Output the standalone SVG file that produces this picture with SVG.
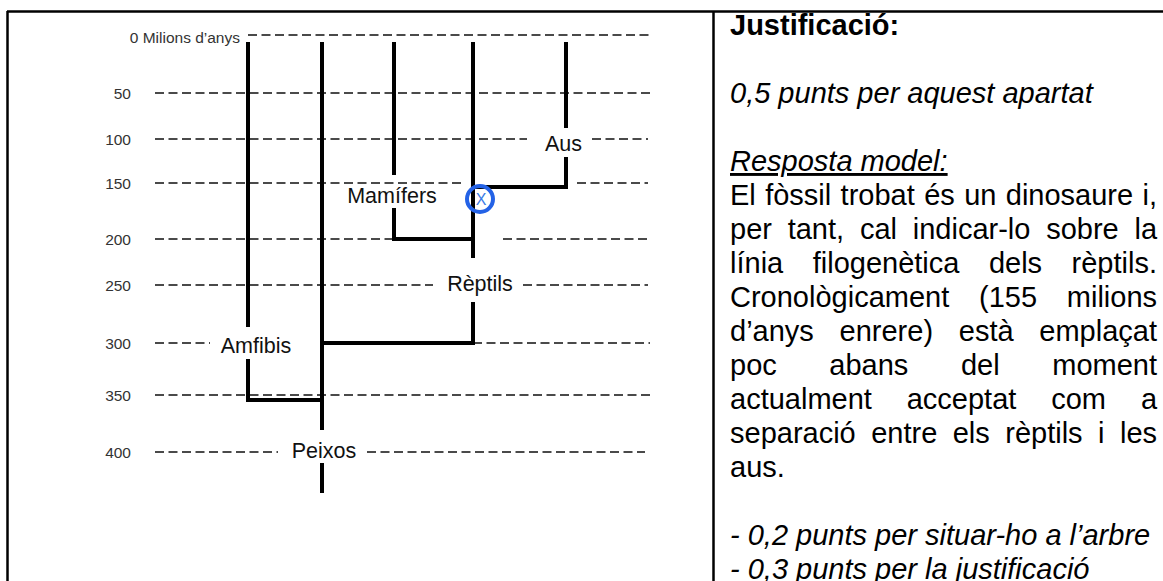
<svg xmlns="http://www.w3.org/2000/svg" width="1163" height="581" viewBox="0 0 1163 581">
<style>
.frame{stroke:#000;stroke-width:2.5;fill:none}
.grid{stroke:#4a4a4a;stroke-width:2;stroke-dasharray:9 4.5;fill:none}
.branch{stroke:#000;stroke-width:4;fill:none;stroke-linejoin:miter;stroke-linecap:butt}
.axis{font-family:"Liberation Sans",Arial,sans-serif;font-size:15.5px;fill:#333;text-anchor:end}
.taxon{font-family:"Liberation Sans",Arial,sans-serif;font-size:21.5px;fill:#111;text-anchor:middle}
.body{font-family:"Liberation Sans",Arial,sans-serif;font-size:29px;fill:#000}
.it{font-style:italic}
</style>
<rect x="0" y="0" width="1163" height="581" fill="#fff"/>
<g id="table">
<line class="frame" x1="7" y1="11.5" x2="1163" y2="11.5"/>
<line class="frame" x1="7.5" y1="11" x2="7.5" y2="581"/>
<line class="frame" x1="713.5" y1="11" x2="713.5" y2="581"/>
</g>
<g id="timescale">
<path class="grid" d="M248,35 H650 M155,93 H650 M155,139 H527 M592,139 H648 M155,183 H462 M577,183 H648 M155,239 H394 M503,239 H650 M155,285 H433 M523,285 H648 M155,343 H210 M473,343 H650 M155,395 H650 M155,452 H278 M367,452 H645"/>
<text class="axis" x="240" y="43">0 Milions d’anys</text>
<text class="axis" x="131" y="99">50</text>
<text class="axis" x="131" y="145">100</text>
<text class="axis" x="131" y="189">150</text>
<text class="axis" x="131" y="245">200</text>
<text class="axis" x="131" y="291">250</text>
<text class="axis" x="131" y="349">300</text>
<text class="axis" x="131" y="401">350</text>
<text class="axis" x="131" y="458">400</text>
</g>
<g id="connectors">
<path class="branch" d="M248,42 V327 M248,359 V400 H322"/>
<path class="branch" d="M394,42 V175 M394,208 V239 H473"/>
<path class="branch" d="M566,42 V128 M566,157 V187 H473"/>
<path class="branch" d="M473,42 V258 M473,302 V343 H322"/>
<path class="branch" d="M322,42 V430 M322,463 V493"/>
</g>
<g id="node-aus"><text class="taxon" x="563.5" y="151">Aus</text></g>
<g id="node-mamifers"><text class="taxon" x="392" y="203">Mamífers</text></g>
<g id="node-reptils"><text class="taxon" x="480" y="291">Rèptils</text></g>
<g id="node-amfibis"><text class="taxon" x="256" y="353">Amfibis</text></g>
<g id="node-peixos"><text class="taxon" x="324" y="458">Peixos</text></g>
<g id="node-fossil">
<circle cx="480" cy="199" r="13" fill="none" stroke="#2462e6" stroke-width="4"/>
<text x="481" y="205" font-family="Liberation Sans, Arial, sans-serif" font-size="16" fill="#3b7be6" text-anchor="middle">X</text>
</g>
<g id="justification" class="body">
<text x="730" y="35" font-weight="bold">Justificació:</text>
<text class="it" x="730" y="103">0,5 punts per aquest apartat</text>
<text class="it" x="730" y="171" text-decoration="underline">Resposta model:</text>
<text y="205"><tspan x="730">El</tspan><tspan x="765.16">fòssil</tspan><tspan x="840.6">trobat</tspan><tspan x="924.13">és</tspan><tspan x="964.13">un</tspan><tspan x="1005.76">dinosaure</tspan><tspan x="1142.48">i,</tspan></text>
<text y="239"><tspan x="730">per</tspan><tspan x="787.69">tant,</tspan><tspan x="859.9">cal</tspan><tspan x="912.74">indicar-lo</tspan><tspan x="1046.14">sobre</tspan><tspan x="1134.45">la</tspan></text>
<text y="273"><tspan x="730">línia</tspan><tspan x="812.7">filogenètica</tspan><tspan x="988.89">dels</tspan><tspan x="1071.59">rèptils.</tspan></text>
<text y="307"><tspan x="730">Cronològicament</tspan><tspan x="978.97">(155</tspan><tspan x="1066.79">milions</tspan></text>
<text y="341"><tspan x="730">d’anys</tspan><tspan x="839.56">enrere)</tspan><tspan x="958.78">està</tspan><tspan x="1039.34">emplaçat</tspan></text>
<text y="375"><tspan x="730">poc</tspan><tspan x="829.35">abans</tspan><tspan x="960.95">del</tspan><tspan x="1052.24">moment</tspan></text>
<text y="409"><tspan x="730">actualment</tspan><tspan x="906.72">acceptat</tspan><tspan x="1051.22">com</tspan><tspan x="1140.88">a</tspan></text>
<text y="443"><tspan x="730">separació</tspan><tspan x="871.18">entre</tspan><tspan x="952.73">els</tspan><tspan x="1005.25">rèptils</tspan><tspan x="1098.05">i</tspan><tspan x="1119.95">les</tspan></text>
<text x="730" y="477">aus.</text>
<text class="it" x="730" y="545">- 0,2 punts per situar-ho a l’arbre</text>
<text class="it" x="730" y="579">- 0,3 punts per la justificació</text>
</g>
</svg>
